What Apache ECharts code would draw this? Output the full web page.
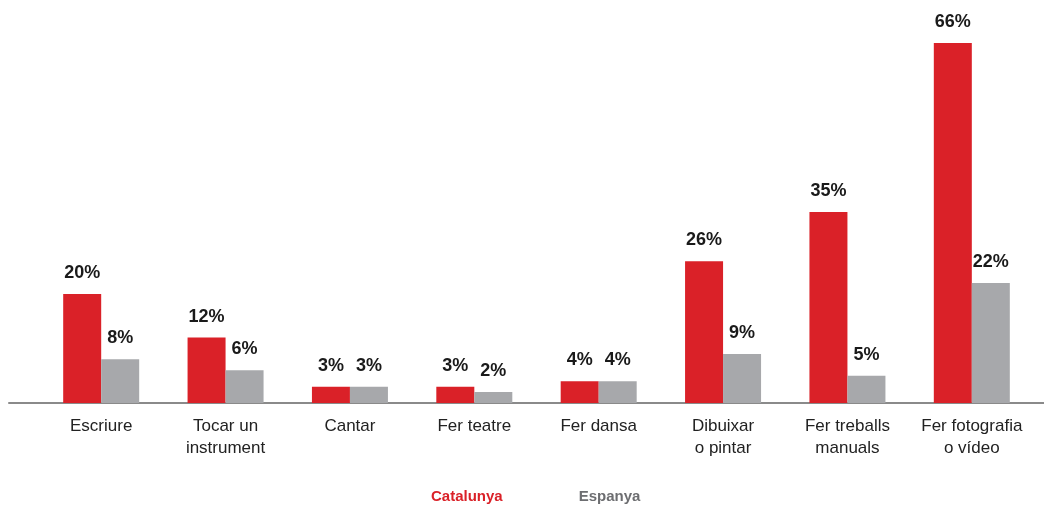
<!DOCTYPE html>
<html>
<head>
<meta charset="utf-8">
<script src="https://cdn.jsdelivr.net/npm/echarts@6/dist/echarts.min.js"></script>
<style>
  html, body { margin: 0; padding: 0; background: #fff; }
  #chart { width: 1044px; height: 505px; }
</style>
</head>
<body>
<div id="chart"></div>
<script>
// Activitats artístiques practicades (%)
const categories = [
  'Escriure', 'Tocar un\ninstrument', 'Cantar', 'Fer teatre', 'Fer dansa',
  'Dibuixar\no pintar', 'Fer treballs\nmanuals', 'Fer fotografia\no vídeo'
];
const catalunya = [20, 12, 3, 3, 4, 26, 35, 66];
const espanya = [8, 6, 3, 2, 4, 9, 5, 22];
const seriesNames = ['Catalunya', 'Espanya'];

const RED = '#da2128';
const GREY = '#a7a8ab';
const FONT = '"Liberation Sans", Arial, sans-serif';

const chart = echarts.init(document.getElementById('chart'), null, { renderer: 'canvas' });

const valueLabel = {
  show: true,
  position: 'top',
  distance: 12,
  formatter: '{c}%',
  fontFamily: FONT,
  fontWeight: 'bold',
  fontSize: 18,
  color: '#1a1a1a'
};

const yMax = Math.max(...catalunya, ...espanya);

chart.setOption({
  animation: false,
  textStyle: { fontFamily: FONT },
  legend: {
    top: 484,
    left: 421,
    itemWidth: 0,
    itemHeight: 0,
    itemGap: 71,
    icon: 'rect',
    selectedMode: false,
    data: [
      { name: seriesNames[0], textStyle: { color: RED } },
      { name: seriesNames[1], textStyle: { color: '#6d6e71' } }
    ],
    textStyle: { fontFamily: FONT, fontWeight: 'bold', fontSize: 15, padding: 0 }
  },
  grid: [
    { left: 39, right: 10, top: 43, bottom: 102, containLabel: false },
    // full-width baseline strip
    { left: 9, right: 0, top: 43, bottom: 102, containLabel: false }
  ],
  xAxis: [
    {
      type: 'category',
      gridIndex: 0,
      data: categories,
      axisLine: { show: false },
      axisTick: { show: false },
      axisLabel: {
        interval: 0,
        margin: 12,
        fontFamily: FONT,
        fontSize: 17,
        lineHeight: 22,
        color: '#222'
      }
    },
    {
      type: 'value',
      gridIndex: 1,
      min: 0,
      max: 1,
      axisLine: { show: true, lineStyle: { color: '#8a8a8a', width: 2 } },
      axisTick: { show: false },
      axisLabel: { show: false },
      splitLine: { show: false }
    }
  ],
  yAxis: [
    {
      type: 'value',
      gridIndex: 0,
      min: 0,
      max: yMax,
      show: false,
      splitLine: { show: false }
    },
    {
      type: 'value',
      gridIndex: 1,
      show: false
    }
  ],
  series: [
    {
      name: seriesNames[0],
      type: 'bar',
      xAxisIndex: 0,
      yAxisIndex: 0,
      data: catalunya,
      barWidth: 38,
      barGap: '0%',
      itemStyle: { color: RED },
      label: valueLabel
    },
    {
      name: seriesNames[1],
      type: 'bar',
      xAxisIndex: 0,
      yAxisIndex: 0,
      data: espanya,
      barWidth: 38,
      barGap: '0%',
      itemStyle: { color: GREY },
      label: valueLabel
    }
  ]
});
</script>
</body>
</html>
